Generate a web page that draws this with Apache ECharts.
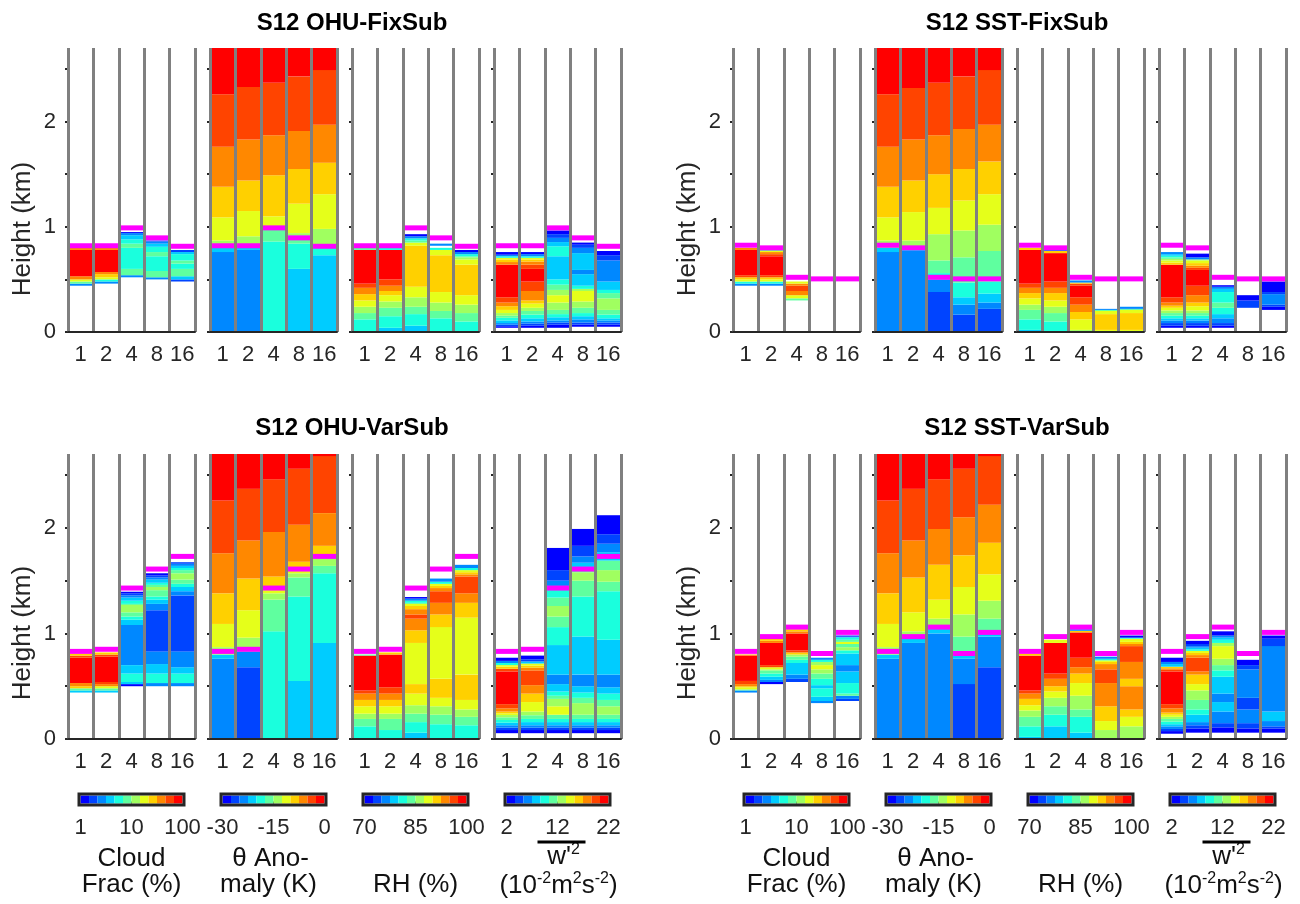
<!DOCTYPE html>
<html>
<head>
<meta charset="utf-8">
<script src="https://cdn.jsdelivr.net/npm/echarts@6/dist/echarts.min.js"></script>
<style>
  html, body { margin: 0; background: #fff; }
  #chart { width: 1300px; height: 904px; }
</style>
</head>
<body>
<div id="chart"></div>
<script>
// LES resolution (x categories of every sub-panel)
const resolutions = ['1', '2', '4', '8', '16'];

// colour levels shared by all four fields
const levelColors = ['#0000ff', '#0044ff', '#0088ff', '#00ccff', '#1affdd', '#5fff9f',
  '#a0ff60', '#e5ff1a', '#ffd000', '#ff8800', '#ff4400', '#ff0000'];
const cloudBins = [1, 1.47, 2.15, 3.16, 4.64, 6.81, 10, 14.7, 21.5, 31.6, 46.4, 68.1, 100];
const thetaBins = [-30, -27.5, -25, -22.5, -20, -17.5, -15, -12.5, -10, -7.5, -5, -2.5, 0];
const rhBins = [70, 72.5, 75, 77.5, 80, 82.5, 85, 87.5, 90, 92.5, 95, 97.5, 100];
const w2Bins = [2, 3.67, 5.33, 7, 8.67, 10.33, 12, 13.67, 15.33, 17, 18.67, 20.33, 22];

// colour bar tick labels
const cloudTicks = [1, 10, 100];
const thetaTicks = [-30, -15, 0];
const rhTicks = [70, 85, 100];
const w2Ticks = [2, 12, 22];

// boundary layer top (magenta) per resolution, km
const ohuFixTop = [0.82, 0.82, 0.99, 0.895, 0.815];
const sstFixTop = [0.825, 0.80, 0.52, 0.505, 0.505];
const ohuVarTop = [0.83, 0.85, 1.43, 1.61, 1.73];
const sstVarTop = [0.83, 0.97, 1.06, 0.81, 1.01];

// profiles: z = layer edges (km), v = value in each layer (null = blank)
// ---- S12 OHU-FixSub
const ohuFixCloud = [
  { z: [0.44, 0.46, 0.48, 0.50, 0.53, 0.78, 0.80, 0.81], v: [2.6, 8, 18, 38, 85, 38, 26] },
  { z: [0.46, 0.48, 0.50, 0.52, 0.55, 0.57, 0.78, 0.80, 0.81], v: [2.6, 5.5, 18, 26, 38, 85, 38, 26] },
  { z: [0.52, 0.54, 0.60, 0.80, 0.84, 0.88, 0.92, 0.94, 0.95], v: [2.6, 8, 5.5, 8, 5.5, 3.8, 2.6, 1.2] },
  { z: [0.50, 0.52, 0.58, 0.72, 0.76, 0.81, 0.84, 0.86, 0.87], v: [2.6, 8, 5.5, 8, 5.5, 3.8, 2.6, 1.8] },
  { z: [0.48, 0.50, 0.53, 0.60, 0.65, 0.68, 0.74, 0.76, 0.78], v: [1.8, 3.8, 8, 5.5, 8, 5.5, 3.8, 1.8] }
];
const ohuFixTheta = [
  { z: [0, 0.76, 0.80, 0.87, 1.09, 1.38, 1.76, 2.26, 2.7], v: [-24, -21, -14, -11, -9, -6, -4, -1] },
  { z: [0, 0.78, 0.82, 0.91, 1.15, 1.44, 1.83, 2.33, 2.7], v: [-24, -21, -14, -11, -9, -6, -4, -1] },
  { z: [0, 0.86, 0.99, 1.10, 1.49, 1.87, 2.37, 2.7], v: [-19, -16, -11, -9, -6, -4, -1] },
  { z: [0, 0.60, 0.84, 0.92, 0.94, 1.22, 1.55, 1.91, 2.43, 2.7], v: [-21, -19, -16, -14, -11, -9, -6, -4, -1] },
  { z: [0, 0.73, 0.81, 0.98, 1.31, 1.61, 1.97, 2.49, 2.7], v: [-21, -19, -14, -11, -9, -6, -4, -1] }
];
const ohuFixRh = [
  { z: [0, 0.12, 0.18, 0.24, 0.30, 0.36, 0.42, 0.46, 0.78, 0.80], v: [81, 84, 86, 89, 91, 94, 96, 99, 84] },
  { z: [0, 0.04, 0.15, 0.23, 0.29, 0.35, 0.39, 0.44, 0.50, 0.78, 0.80], v: [79, 81, 84, 86, 89, 91, 94, 96, 99, 81] },
  { z: [0, 0.06, 0.17, 0.24, 0.33, 0.43, 0.82, 0.85, 0.87, 0.89, 0.91, 0.93], v: [79, 81, 84, 86, 89, 91, 89, 84, 81, 76, 71] },
  { z: [0, 0.13, 0.20, 0.28, 0.38, 0.73, 0.78, 0.80, 0.82, 0.84], v: [81, 84, 86, 89, 91, 89, 81, null, 76] },
  { z: [0, 0.10, 0.18, 0.26, 0.35, 0.64, 0.69, 0.71, 0.72, 0.74, 0.76, 0.78], v: [81, 84, 86, 89, 91, 89, 86, 84, 81, 76, 71] }
];
const ohuFixW2 = [
  { z: [0.04, 0.055, 0.07, 0.085, 0.11, 0.135, 0.155, 0.18, 0.21, 0.245, 0.28, 0.33, 0.64, 0.665, 0.69, 0.705, 0.72, 0.735, 0.76],
    v: [3, 4.5, 6, 8, 9.5, 11, 13, 14.5, 16, 18, 19.5, 21, 18, 16, 14.5, 9.5, 6, 3] },
  { z: [0.04, 0.06, 0.08, 0.10, 0.13, 0.165, 0.20, 0.23, 0.27, 0.30, 0.39, 0.48, 0.60, 0.64, 0.67, 0.69, 0.705, 0.72, 0.74, 0.76],
    v: [3, 4.5, 6, 8, 9.5, 11, 13, 14.5, 16, 18, 19.5, 21, 19.5, 18, 16, 14.5, 9.5, 6, 3] },
  { z: [0.04, 0.07, 0.09, 0.11, 0.14, 0.17, 0.21, 0.28, 0.35, 0.40, 0.45, 0.50, 0.72, 0.815, 0.855, 0.895, 0.93, 0.965],
    v: [3, 4.5, 6, 8, 9.5, 11, 13, 14.5, 13, 11, 9.5, 8, 9.5, 8, 6, 4.5, 3] },
  { z: [0.05, 0.07, 0.09, 0.12, 0.15, 0.18, 0.23, 0.29, 0.39, 0.41, 0.44, 0.55, 0.59, 0.75, 0.80, 0.83, 0.85],
    v: [3, 4.5, 6, 8, 9.5, 11, 13, 14.5, 13, 9.5, 8, 6, 8, 6, 4.5, 3] },
  { z: [0.05, 0.07, 0.09, 0.11, 0.13, 0.165, 0.21, 0.32, 0.37, 0.40, 0.48, 0.68, 0.73, 0.77],
    v: [3, 4.5, 6, 8, 9.5, 11, 13, 11, 9.5, 8, 6, 4.5, 3] }
];

// ---- S12 SST-FixSub
const sstFixCloud = [
  { z: [0.44, 0.46, 0.48, 0.50, 0.52, 0.54, 0.78, 0.80], v: [2.6, 5.5, 18, 26, 56, 85, 38] },
  { z: [0.44, 0.46, 0.48, 0.50, 0.52, 0.54, 0.72, 0.74, 0.76, 0.77, 0.78], v: [2.6, 5.5, 18, 26, 56, 85, 56, 38, 18, 8] },
  { z: [0.30, 0.32, 0.35, 0.39, 0.44, 0.46, 0.48], v: [8, 18, 38, 56, 38, 18] },
  { z: [], v: [] },
  { z: [], v: [] }
];
const sstFixTheta = [
  { z: [0, 0.76, 0.80, 0.87, 1.09, 1.38, 1.76, 2.26, 2.7], v: [-24, -21, -14, -11, -9, -6, -4, -1] },
  { z: [0, 0.77, 0.80, 0.87, 1.14, 1.44, 1.83, 2.32, 2.7], v: [-24, -21, -14, -11, -9, -6, -4, -1] },
  { z: [0, 0.38, 0.50, 0.56, 0.68, 0.93, 1.18, 1.50, 1.87, 2.37, 2.7], v: [-26, -24, -19, -16, -14, -11, -9, -6, -4, -1] },
  { z: [0, 0.165, 0.26, 0.33, 0.47, 0.71, 0.965, 1.25, 1.55, 1.93, 2.43, 2.7], v: [-26, -24, -21, -19, -16, -14, -11, -9, -6, -4, -1] },
  { z: [0, 0.22, 0.28, 0.365, 0.48, 0.77, 1.02, 1.31, 1.62, 1.97, 2.49, 2.7], v: [-26, -24, -21, -19, -16, -14, -11, -9, -6, -4, -1] }
];
const sstFixRh = [
  { z: [0, 0.02, 0.12, 0.21, 0.26, 0.32, 0.37, 0.42, 0.46, 0.78, 0.80], v: [79, 81, 84, 86, 89, 91, 94, 96, 99, 91] },
  { z: [0, 0.10, 0.18, 0.24, 0.30, 0.37, 0.42, 0.48, 0.75, 0.77, 0.78], v: [81, 84, 86, 89, 91, 94, 96, 99, 91, 76] },
  { z: [0, 0.02, 0.12, 0.19, 0.26, 0.33, 0.44, 0.46, 0.47, 0.49], v: [86, 89, 91, 94, 96, 99, 96, 91, 76] },
  { z: [0, 0.02, 0.17, 0.20, 0.21, 0.22], v: [89, 91, 89, 84, 76] },
  { z: [0, 0.02, 0.18, 0.21, 0.22, 0.24], v: [89, 91, 89, 84, 76] }
];
const sstFixW2 = [
  { z: [0.04, 0.06, 0.085, 0.11, 0.13, 0.155, 0.18, 0.205, 0.23, 0.25, 0.28, 0.33, 0.64, 0.66, 0.68, 0.695, 0.71, 0.725, 0.74, 0.76],
    v: [3, 4.5, 6, 8, 9.5, 11, 13, 14.5, 16, 18, 19.5, 21, 16, 14.5, 13, 11, 9.5, 8, 6] },
  { z: [0.04, 0.06, 0.085, 0.11, 0.13, 0.155, 0.18, 0.205, 0.245, 0.28, 0.35, 0.44, 0.59, 0.61, 0.63, 0.655, 0.68, 0.69, 0.71, 0.745],
    v: [3, 4.5, 6, 8, 9.5, 11, 13, 14.5, 16, 18, 19.5, 21, 19.5, 18, 16, 14.5, 13, 6, 3] },
  { z: [0.04, 0.06, 0.085, 0.13, 0.17, 0.23, 0.28, 0.38, 0.41, 0.43, 0.445], v: [3, 4.5, 6, 8, 9.5, 11, 9.5, 8, 6, 3] },
  { z: [0.23, 0.30, 0.35], v: [4.5, 3] },
  { z: [0.21, 0.24, 0.26, 0.36, 0.38, 0.48], v: [3, 4.5, 6, 4.5, 3] }
];

// ---- S12 OHU-VarSub
const ohuVarCloud = [
  { z: [0.44, 0.46, 0.48, 0.50, 0.53, 0.77, 0.79, 0.81], v: [3.8, 8, 26, 38, 85, 56, 26] },
  { z: [0.44, 0.46, 0.48, 0.50, 0.52, 0.54, 0.78, 0.80, 0.82], v: [3.8, 8, 18, 38, 56, 85, 56, 26] },
  { z: [0.50, 0.52, 0.54, 0.62, 0.70, 1.08, 1.13, 1.16, 1.20, 1.27, 1.28, 1.31, 1.34, 1.36, 1.38, 1.395],
    v: [1.2, 3.8, 5.5, 3.8, 2.6, 3.8, 5.5, 8, 12, 8, 5.5, 3.8, 2.6, 1.8, 1.2] },
  { z: [0.50, 0.53, 0.62, 0.71, 0.83, 1.22, 1.28, 1.32, 1.35, 1.41, 1.44, 1.46, 1.48, 1.51, 1.53, 1.55, 1.57],
    v: [2.6, 5.5, 3.8, 2.6, 1.8, 2.6, 3.8, 5.5, 8, 12, 8, 5.5, 3.8, 2.6, 1.8, 1.2] },
  { z: [0.50, 0.53, 0.62, 0.68, 0.83, 1.36, 1.40, 1.44, 1.47, 1.51, 1.57, 1.60, 1.62, 1.64, 1.66, 1.675],
    v: [2.6, 5.5, 3.8, 2.6, 1.8, 2.6, 3.8, 5.5, 8, 12, 8, 5.5, 3.8, 2.6, 1.8] }
];
const ohuVarTheta = [
  { z: [0, 0.76, 0.80, 0.87, 1.09, 1.38, 1.76, 2.26, 2.7], v: [-24, -21, -14, -11, -9, -6, -4, -1] },
  { z: [0, 0.68, 0.83, 0.96, 1.22, 1.52, 1.88, 2.37, 2.7], v: [-26, -24, -14, -11, -9, -6, -4, -1] },
  { z: [0, 1.02, 1.32, 1.38, 1.42, 1.54, 1.96, 2.46, 2.7], v: [-19, -16, -14, -11, -9, -6, -4, -1] },
  { z: [0, 0.55, 1.35, 1.53, 1.57, 1.60, 1.68, 2.03, 2.56, 2.7], v: [-21, -19, -16, -14, -11, -9, -6, -4, -1] },
  { z: [0, 0.91, 1.57, 1.64, 1.72, 1.83, 2.14, 2.68, 2.7], v: [-21, -19, -16, -14, -9, -6, -4, -1] }
];
const ohuVarRh = [
  { z: [0, 0.12, 0.19, 0.24, 0.31, 0.37, 0.43, 0.46, 0.79, 0.80], v: [81, 84, 86, 89, 91, 94, 96, 99, 84] },
  { z: [0, 0.085, 0.19, 0.24, 0.31, 0.37, 0.43, 0.49, 0.80, 0.82], v: [81, 84, 86, 89, 91, 94, 96, 99, 91] },
  { z: [0, 0.06, 0.16, 0.24, 0.32, 0.43, 0.52, 0.91, 1.03, 1.14, 1.18, 1.23, 1.26, 1.28, 1.29, 1.31, 1.33, 1.345],
    v: [79, 81, 84, 86, 89, 91, 89, 91, 94, 96, 94, 91, 89, 84, 81, 76, 71] },
  { z: [0, 0.14, 0.23, 0.31, 0.39, 0.57, 1.06, 1.18, 1.29, 1.40, 1.43, 1.45, 1.47, 1.49, 1.52],
    v: [81, 84, 86, 89, 91, 89, 91, 94, 96, 94, 91, 89, 81, 76] },
  { z: [0, 0.13, 0.21, 0.28, 0.37, 0.61, 1.15, 1.29, 1.38, 1.54, 1.56, 1.58, 1.60, 1.62, 1.65],
    v: [81, 84, 86, 89, 91, 89, 91, 94, 96, 94, 91, 89, 81, 76] }
];
const ohuVarW2 = [
  { z: [0.055, 0.085, 0.107, 0.13, 0.155, 0.18, 0.205, 0.227, 0.243, 0.26, 0.29, 0.33, 0.64, 0.665, 0.685, 0.70, 0.72, 0.74, 0.77],
    v: [3, 4.5, 6, 8, 9.5, 11, 13, 14.5, 16, 18, 19.5, 21, 19.5, 16, 14.5, 9.5, 6, 3] },
  { z: [0.055, 0.085, 0.107, 0.13, 0.16, 0.19, 0.225, 0.26, 0.35, 0.43, 0.51, 0.65, 0.675, 0.695, 0.715, 0.735, 0.755, 0.79],
    v: [3, 4.5, 6, 8, 9.5, 11, 13, 14.5, 16, 18, 19.5, 18, 16, 14.5, 8, 4.5, 3] },
  { z: [0.055, 0.085, 0.107, 0.13, 0.16, 0.19, 0.23, 0.31, 0.38, 0.41, 0.45, 0.52, 0.61, 0.89, 1.06, 1.16, 1.26, 1.34, 1.45, 1.50, 1.60, 1.81],
    v: [3, 4.5, 6, 8, 9.5, 11, 14.5, 13, 11, 9.5, 8, 6, 8, 9.5, 11, 13, 11, 9.5, 6, 4.5, 3] },
  { z: [0.055, 0.085, 0.107, 0.13, 0.16, 0.19, 0.23, 0.34, 0.39, 0.44, 0.50, 0.61, 0.97, 1.35, 1.50, 1.58, 1.63, 1.67, 1.73, 1.83, 1.99],
    v: [3, 4.5, 6, 8, 9.5, 11, 13, 11, 9.5, 8, 6, 8, 9.5, 11, 13, 11, 8, 6, 4.5, 3] },
  { z: [0.055, 0.085, 0.107, 0.13, 0.16, 0.19, 0.23, 0.31, 0.37, 0.43, 0.49, 0.61, 0.94, 1.40, 1.49, 1.60, 1.69, 1.77, 1.85, 1.94, 2.12],
    v: [3, 4.5, 6, 8, 9.5, 11, 13, 11, 9.5, 8, 6, 8, 9.5, 11, 13, 11, 8, 6, 4.5, 3] }
];

// ---- S12 SST-VarSub
const sstVarCloud = [
  { z: [0.44, 0.46, 0.47, 0.49, 0.50, 0.52, 0.55, 0.79, 0.80], v: [2.6, 8, 18, 26, 38, 56, 85, 38] },
  { z: [0.52, 0.54, 0.56, 0.59, 0.62, 0.65, 0.66, 0.68, 0.70, 0.91, 0.93, 0.95], v: [1.2, 2.6, 3.8, 5.5, 8, 12, 18, 56, 85, 38, 26] },
  { z: [0.54, 0.57, 0.61, 0.72, 0.75, 0.78, 0.80, 0.82, 0.84, 1.00, 1.02, 1.04], v: [1.8, 2.6, 3.8, 5.5, 8, 12, 26, 56, 85, 38, 26] },
  { z: [0.34, 0.36, 0.40, 0.48, 0.51, 0.57, 0.62, 0.66, 0.70, 0.73, 0.75, 0.77], v: [2.6, 3.8, 5.5, 3.8, 5.5, 8, 12, 18, 12, 5.5, 2.6] },
  { z: [0.36, 0.38, 0.41, 0.43, 0.53, 0.64, 0.70, 0.81, 0.84, 0.87, 0.90, 0.92, 0.94, 0.96, 0.97, 0.98],
    v: [1.8, 2.6, 8, 5.5, 3.8, 2.6, 3.8, 5.5, 12, 8, 18, 8, 5.5, 3.8, 1.2] }
];
const sstVarTheta = [
  { z: [0, 0.76, 0.80, 0.87, 1.09, 1.38, 1.76, 2.26, 2.7], v: [-24, -21, -14, -11, -9, -6, -4, -1] },
  { z: [0, 0.91, 0.97, 1.02, 1.20, 1.53, 1.88, 2.37, 2.7], v: [-24, -21, -14, -11, -9, -6, -4, -1] },
  { z: [0, 1.0, 1.07, 1.14, 1.32, 1.65, 1.99, 2.46, 2.7], v: [-24, -21, -14, -11, -9, -6, -4, -1] },
  { z: [0, 0.52, 0.76, 0.81, 0.97, 1.18, 1.44, 1.74, 2.10, 2.56, 2.7], v: [-26, -24, -21, -16, -14, -11, -9, -6, -4, -1] },
  { z: [0, 0.68, 0.97, 1.03, 1.14, 1.31, 1.56, 1.86, 2.22, 2.68, 2.7], v: [-26, -24, -21, -16, -14, -11, -9, -6, -4, -1] }
];
const sstVarRh = [
  { z: [0, 0.02, 0.12, 0.21, 0.27, 0.32, 0.38, 0.43, 0.46, 0.79, 0.81], v: [79, 81, 84, 86, 89, 91, 94, 96, 99, 91] },
  { z: [0, 0.12, 0.23, 0.31, 0.39, 0.45, 0.50, 0.57, 0.62, 0.91, 0.94], v: [79, 81, 84, 86, 89, 91, 94, 96, 99, 89] },
  { z: [0, 0.06, 0.21, 0.28, 0.41, 0.53, 0.62, 0.68, 0.77, 1.01, 1.025, 1.04], v: [79, 81, 84, 86, 89, 91, 94, 96, 99, 91, 76] },
  { z: [0, 0.085, 0.17, 0.31, 0.53, 0.66, 0.71, 0.73, 0.745, 0.76, 0.78], v: [86, 89, 91, 94, 96, 94, 91, 89, 81, 76] },
  { z: [0, 0.12, 0.21, 0.28, 0.50, 0.57, 0.73, 0.88, 0.90, 0.92, 0.95, 0.96, 0.98], v: [86, 89, 91, 94, 91, 94, 96, 94, 91, 89, 81, 71] }
];
const sstVarW2 = [
  { z: [0.05, 0.075, 0.095, 0.12, 0.14, 0.165, 0.19, 0.21, 0.23, 0.25, 0.29, 0.33, 0.64, 0.655, 0.67, 0.685, 0.71, 0.73, 0.77],
    v: [3, 4.5, 6, 8, 9.5, 11, 13, 14.5, 16, 18, 19.5, 21, 19.5, 18, 16, 8, 6, 3] },
  { z: [0.06, 0.10, 0.13, 0.16, 0.23, 0.28, 0.37, 0.46, 0.52, 0.61, 0.64, 0.77, 0.795, 0.815, 0.835, 0.85, 0.865, 0.88, 0.90, 0.93],
    v: [3, 4.5, 6, 8, 9.5, 11, 13, 14.5, 16, 18, 19.5, 18, 16, 14.5, 9.5, 8, 6, 4.5, 3] },
  { z: [0.06, 0.11, 0.15, 0.26, 0.35, 0.43, 0.59, 0.65, 0.70, 0.76, 0.88, 0.91, 0.94, 0.96, 0.98, 1.02],
    v: [3, 4.5, 6, 8, 6, 8, 9.5, 11, 13, 14.5, 13, 9.5, 8, 6, 3] },
  { z: [0.06, 0.10, 0.15, 0.28, 0.39, 0.66, 0.70, 0.75], v: [3, 4.5, 6, 4.5, 6, 4.5, 3] },
  { z: [0.06, 0.10, 0.12, 0.17, 0.26, 0.88, 0.95, 0.98], v: [3, 4.5, 6, 8, 6, 4.5, 3] }
];

const FONT = "'Liberation Sans', Arial, Helvetica, sans-serif";
const INK = '#262626';

const panels = [
  { title: 'S12 OHU-FixSub', row: 0, col: 0, zTop: ohuFixTop, fields: [ohuFixCloud, ohuFixTheta, ohuFixRh, ohuFixW2] },
  { title: 'S12 SST-FixSub', row: 0, col: 1, zTop: sstFixTop, fields: [sstFixCloud, sstFixTheta, sstFixRh, sstFixW2] },
  { title: 'S12 OHU-VarSub', row: 1, col: 0, zTop: ohuVarTop, fields: [ohuVarCloud, ohuVarTheta, ohuVarRh, ohuVarW2] },
  { title: 'S12 SST-VarSub', row: 1, col: 1, zTop: sstVarTop, fields: [sstVarCloud, sstVarTheta, sstVarRh, sstVarW2] }
];
const fieldBins = [cloudBins, thetaBins, rhBins, w2Bins];
const fieldTicks = [cloudTicks, thetaTicks, rhTicks, w2Ticks];

// layout
const subLeft = [68, 210, 352, 494];
const subWidth = 127;
const colShift = 665;
const rowTop = [48, 454];
const rowHeight = [284, 285];

function toSegments(cols) {
  const out = [];
  cols.forEach((c, i) => {
    for (let k = 0; k < c.v.length; k++) {
      if (c.v[k] != null) out.push([i, c.z[k], c.z[k + 1], c.v[k]]);
    }
  });
  return out;
}

function renderLayer(params, api) {
  const bw = api.size([1, 0])[0];
  const p0 = api.coord([api.value(0), api.value(1)]);
  const p1 = api.coord([api.value(0), api.value(2)]);
  return {
    type: 'rect',
    shape: { x: p0[0] - bw / 2, y: p1[1], width: bw, height: p0[1] - p1[1] },
    style: { fill: api.visual('color') }
  };
}

function renderTop(params, api) {
  const bw = api.size([1, 0])[0];
  const p = api.coord([api.value(0), api.value(1)]);
  return {
    type: 'rect',
    shape: { x: p[0] - bw / 2, y: p[1] - 2.5, width: bw, height: 5 },
    style: { fill: '#ff00ff' }
  };
}

function renderCell(params, api) {
  const p0 = api.coord([api.value(0), 0]);
  const p1 = api.coord([api.value(1), 1]);
  return {
    type: 'rect',
    shape: { x: p0[0], y: p1[1], width: p1[0] - p0[0], height: p0[1] - p1[1] },
    style: { fill: api.visual('color') }
  };
}

const grid = [], xAxis = [], yAxis = [], series = [], graphic = [];

panels.forEach((p, pi) => {
  p.fields.forEach((cols, j) => {
    const gi = pi * 4 + j;
    grid.push({ left: subLeft[j] + p.col * colShift, top: rowTop[p.row], width: subWidth, height: rowHeight[p.row] });
    xAxis.push({
      gridIndex: gi, type: 'category', data: resolutions, boundaryGap: true, z: 5,
      axisLine: { lineStyle: { color: INK, width: 2 } },
      axisTick: { alignWithLabel: true, length: 4, lineStyle: { color: INK, width: 2 } },
      axisLabel: { fontSize: 22, color: INK, margin: 12, fontFamily: FONT, interval: 0 },
      splitLine: { show: true, interval: 0, lineStyle: { color: '#808080', width: 3 } }
    });
    yAxis.push({
      gridIndex: gi, type: 'value', min: 0, max: 2.7,
      axisLine: { show: false },
      axisTick: { show: true, length: 3, customValues: [0, 0.5, 1, 1.5, 2, 2.5], lineStyle: { color: INK, width: 2 } },
      axisLabel: { show: j === 0, customValues: [0, 1, 2], fontSize: 22, color: INK, margin: 12, fontFamily: FONT },
      splitLine: { show: false }
    });
    series.push({
      type: 'custom', xAxisIndex: gi, yAxisIndex: gi, z: 2,
      renderItem: renderLayer, encode: { x: 0, y: 1 },
      data: toSegments(cols), silent: true
    });
    series.push({
      type: 'custom', xAxisIndex: gi, yAxisIndex: gi, z: 3,
      renderItem: renderTop, encode: { x: 0, y: 1 },
      data: p.zTop.map((h, i) => [i, h]), silent: true
    });
  });
  const cxTitle = 352 + p.col * colShift;
  graphic.push({
    type: 'text', x: cxTitle, y: p.row ? 428 : 23,
    style: { text: p.title, fontSize: 24, fontWeight: 'bold', fontFamily: FONT, fill: '#000', align: 'center', verticalAlign: 'middle' }
  });
  graphic.push({
    type: 'text', x: 23 + p.col * colShift, y: p.row ? 633 : 229, rotation: Math.PI / 2,
    style: { text: 'Height (km)', fontSize: 26, fontFamily: FONT, fill: INK, align: 'center', verticalAlign: 'middle' }
  });
});

// colour bars, one row under each column of panels
for (let c = 0; c < 2; c++) {
  for (let j = 0; j < 4; j++) {
    const gi = 16 + c * 4 + j;
    const cx = subLeft[j] + subWidth / 2 + c * colShift;
    const bins = fieldBins[j];
    grid.push({ left: cx - 51, top: 795.5, width: 102, height: 8 });
    xAxis.push({
      gridIndex: gi, type: j === 0 ? 'log' : 'value', logBase: 10,
      min: bins[0], max: bins[bins.length - 1],
      axisLine: { show: false },
      axisTick: { show: true, inside: true, length: 2, customValues: [fieldTicks[j][1]], lineStyle: { color: INK, width: 1 } },
      axisLabel: { customValues: fieldTicks[j], fontSize: 22, color: INK, margin: 13, fontFamily: FONT },
      splitLine: { show: false }
    });
    yAxis.push({ gridIndex: gi, type: 'value', min: 0, max: 1, show: false });
    series.push({
      type: 'custom', xAxisIndex: gi, yAxisIndex: gi, renderItem: renderCell, silent: true,
      encode: { x: [0, 1], y: 2 },
      data: bins.slice(0, -1).map((lo, k) => [lo, bins[k + 1], 0, j === 0 ? Math.sqrt(lo * bins[k + 1]) : (lo + bins[k + 1]) / 2])
    });
    graphic.push({
      type: 'rect', z: 100,
      shape: { x: cx - 52.5, y: 794, width: 105, height: 11 },
      style: { fill: 'none', stroke: INK, lineWidth: 3 }
    });
    const lab = { fontSize: 26, fontFamily: FONT, fill: '#111', align: 'center', verticalAlign: 'middle' };
    if (j === 0) {
      graphic.push({ type: 'text', x: cx, y: 859, style: Object.assign({ text: 'Cloud' }, lab) });
      graphic.push({ type: 'text', x: cx, y: 885, style: Object.assign({ text: 'Frac (%)' }, lab) });
    } else if (j === 1) {
      graphic.push({ type: 'text', x: cx - 3, y: 859, style: Object.assign({ text: 'θ Ano-' }, lab) });
      graphic.push({ type: 'text', x: cx - 5, y: 885, style: Object.assign({ text: 'maly (K)' }, lab) });
    } else if (j === 2) {
      graphic.push({ type: 'text', x: cx, y: 885, style: Object.assign({ text: 'RH (%)' }, lab) });
    } else {
      const rich = {
        n: { fontSize: 26, lineHeight: 30, fontFamily: FONT, fill: '#111' },
        s: { fontSize: 16, lineHeight: 16, verticalAlign: 'top', fontFamily: FONT, fill: '#111' }
      };
      graphic.push({ type: 'rect', z: 100, shape: { x: cx - 20, y: 840.5, width: 48, height: 3 }, style: { fill: '#000' } });
      graphic.push({ type: 'text', x: cx + 6, y: 857,
        style: { text: "{n|w'}{s|2}", rich: rich, align: 'center', verticalAlign: 'middle' } });
      graphic.push({ type: 'text', x: cx + 1, y: 886,
        style: { text: '{n|(10}{s|-2}{n|m}{s|2}{n|s}{s|-2}{n|)}', rich: rich, align: 'center', verticalAlign: 'middle' } });
    }
  }
}

// colour mapping: one piecewise map per field
const visualMap = fieldBins.map((bins, j) => ({
  type: 'piecewise', show: false, dimension: 3,
  seriesIndex: [0, 1, 2, 3].map(pi => 2 * (pi * 4 + j)).concat([32 + j, 36 + j]),
  pieces: bins.slice(0, -1).map((lo, k) => ({ gte: lo, lt: bins[k + 1], color: levelColors[k] }))
}));

const chart = echarts.init(document.getElementById('chart'), null, { renderer: 'canvas' });
chart.setOption({
  animation: false,
  backgroundColor: '#fff',
  grid: grid,
  xAxis: xAxis,
  yAxis: yAxis,
  visualMap: visualMap,
  series: series,
  graphic: graphic
});
</script>
</body>
</html>
